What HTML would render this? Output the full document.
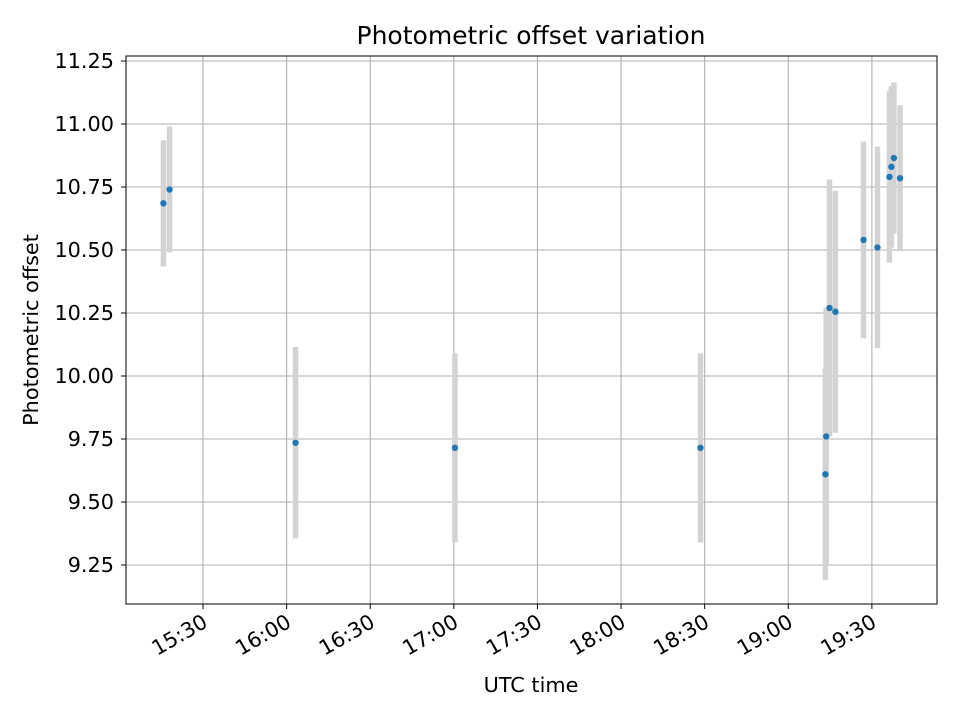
<!DOCTYPE html>
<html><head><meta charset="utf-8"><style>
body{margin:0;background:#fff;font-family:"Liberation Sans","DejaVu Sans",sans-serif;}
svg text{font-family:"DejaVu Sans","Liberation Sans",sans-serif;}
</style></head><body>
<svg id="chart" width="960" height="720" viewBox="0 0 960 720" xmlns="http://www.w3.org/2000/svg">
<rect width="960" height="720" fill="#fff"/>
<g id="grid"></g><g id="bars"></g><g id="pts"></g><g id="axes"></g>
<text x="531" y="44" text-anchor="middle" font-size="25">Photometric offset variation</text>
<text x="531" y="692" text-anchor="middle" font-size="20.8">UTC time</text>
<text transform="translate(38,330) rotate(-90)" text-anchor="middle" font-size="20.8">Photometric offset</text>
</svg>
<script>
// minutes after 15:00 UTC
const times=[15.8,18.0,63.2,120.4,208.5,253.3,253.6,254.8,256.9,267.0,272.0,276.3,277.0,277.9,280.1];
const offsets=[10.685,10.74,9.735,9.715,9.715,9.61,9.76,10.27,10.255,10.54,10.51,10.79,10.83,10.865,10.785];
const errors=[0.25,0.25,0.38,0.375,0.375,0.42,0.51,0.51,0.48,0.39,0.40,0.34,0.32,0.30,0.29];
const yTicks=[9.25,9.5,9.75,10.0,10.25,10.5,10.75,11.0,11.25];
const xTickMins=[30,60,90,120,150,180,210,240,270];
const xTickLabels=["15:30","16:00","16:30","17:00","17:30","18:00","18:30","19:00","19:30"];
const L=126,R=937,T=56,B=604;
const X=m=>119.4+m*2.787;
const Y=v=>61+(11.25-v)*252;
const NS="http://www.w3.org/2000/svg";
function mk(tag,attrs,parent){const e=document.createElementNS(NS,tag);for(const k in attrs)e.setAttribute(k,attrs[k]);parent.appendChild(e);return e;}
const grid=document.getElementById('grid'),bars=document.getElementById('bars'),pts=document.getElementById('pts'),axes=document.getElementById('axes');
yTicks.forEach((v,i)=>{
 const y=Y(v);
 const g=mk('line',{x1:L,x2:R,y1:y,y2:y,stroke:'#b0b0b0','stroke-width':1.1},grid);
 
 
 mk('line',{x1:L-5,x2:L,y1:y,y2:y,stroke:'#000','stroke-width':1},axes);
 const t=mk('text',{x:L-12,y:y+7,'text-anchor':'end','font-size':20.8},axes);
 
 
 t.textContent=v.toFixed(2);
});
xTickMins.forEach((m,i)=>{
 const x=X(m);
 const g=mk('line',{x1:x,x2:x,y1:T,y2:B,stroke:'#b0b0b0','stroke-width':1.1},grid);
 
 
 mk('line',{x1:x,x2:x,y1:B,y2:B+5,stroke:'#000','stroke-width':1},axes);
 const t=mk('text',{transform:`translate(${x+6},${B+22}) rotate(-30)`,'text-anchor':'end','font-size':20.8},axes);
 
 
 t.textContent=xTickLabels[i];
});
const fr=mk('rect',{x:L,y:T,width:R-L,height:B-T,fill:'none',stroke:'#000','stroke-width':1},axes);


times.forEach((m,i)=>{
 const x=X(m);
 const b=mk('line',{x1:x,x2:x,y1:Y(offsets[i]+errors[i]),y2:Y(offsets[i]-errors[i]),stroke:'#d3d3d3','stroke-width':5.5},bars);
 
 
});
times.forEach((m,i)=>{
 const c=mk('circle',{cx:X(m),cy:Y(offsets[i]),r:3.2,fill:'#1f77b4'},pts);
 
 
});
</script>
</body></html>
